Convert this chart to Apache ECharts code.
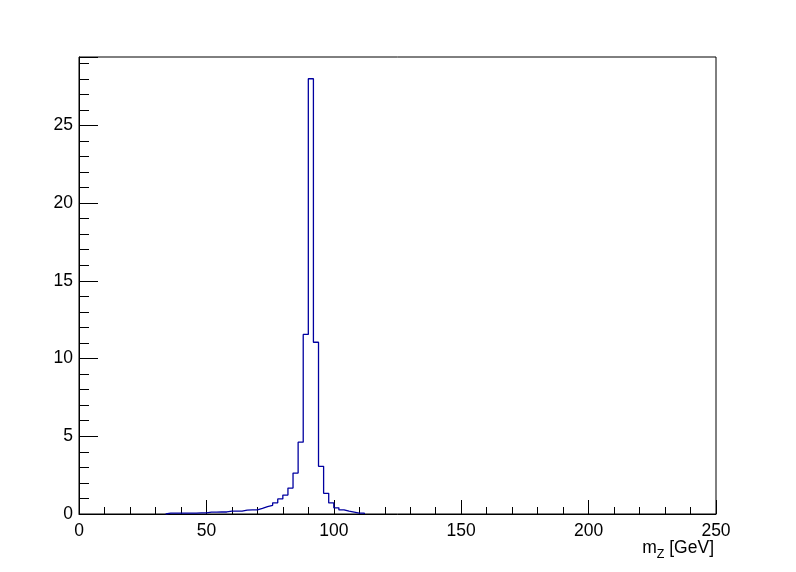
<!DOCTYPE html>
<html>
<head>
<meta charset="utf-8">
<script src="https://cdn.jsdelivr.net/npm/echarts@6/dist/echarts.min.js"></script>
<style>html,body{margin:0;padding:0;background:#fff;}#c{width:796px;height:572px;}</style>
</head>
<body>
<div id="c"></div>
<script>
// Histogram bins (low edges, GeV) and contents
const binLow = [34,36,38,40,42,44,46,48,50,52,54,56,58,60,62,64,66,68,70,72,74,76,78,80,82,84,86,88,90,92,94,96,98,100,102,104,106,108,110];
const binWidth = 2;
const counts = [0.05,0.05,0.06,0.06,0.06,0.06,0.07,0.07,0.12,0.12,0.13,0.13,0.18,0.19,0.19,0.25,0.26,0.26,0.36,0.47,0.56,0.72,0.97,1.22,1.67,2.63,4.62,11.55,28.0,11.05,3.07,1.33,0.71,0.40,0.26,0.18,0.12,0.06,0.05];
const xTicks = [0,50,100,150,200,250];
const yTicks = [0,5,10,15,20,25];
const xMin = 0, xMax = 250, yMin = 0, yMax = 29.4;

// step outline built from bins
const pts = [[binLow[0], 0]];
for (let i = 0; i < binLow.length; i++) pts.push([binLow[i], counts[i]]);
const lastEdge = binLow[binLow.length - 1] + binWidth;
pts.push([lastEdge, counts[counts.length - 1]]);
pts.push([lastEdge, 0]);

const font = 'Liberation Sans, Arial, Helvetica, sans-serif';
const chart = echarts.init(document.getElementById('c'), null, {renderer: 'canvas'});
chart.setOption({
  animation: false,
  backgroundColor: '#fff',
  grid: {left: 79, right: 80, top: 57, bottom: 58, show: true, borderColor: '#000', borderWidth: 1, backgroundColor: 'transparent'},
  xAxis: {
    type: 'value', min: xMin, max: xMax, interval: 50,
    axisLine: {show: true, lineStyle: {color: '#000', width: 1}},
    axisTick: {show: true, inside: true, length: 14, lineStyle: {color: '#000', width: 1}},
    minorTick: {show: true, splitNumber: 5, length: 7, lineStyle: {color: '#000', width: 1}},
    splitLine: {show: false},
    axisLabel: {color: '#000', fontFamily: font, fontSize: 17.5, margin: 8, showMaxLabel: true, showMinLabel: true,
      formatter: v => xTicks.indexOf(v) >= 0 ? String(v) : ''}
  },
  yAxis: [{
    type: 'value', min: yMin, max: yMax, interval: 5,
    axisLine: {show: true, lineStyle: {color: '#000', width: 1}},
    axisTick: {show: true, inside: true, length: 19, lineStyle: {color: '#000', width: 1}},
    splitLine: {show: false},
    axisLabel: {color: '#000', fontFamily: font, fontSize: 17.5, margin: 6,
      formatter: v => yTicks.indexOf(v) >= 0 ? String(v) : ''}
  }, {
    type: 'value', min: yMin, max: yMax, interval: 1, position: 'left',
    axisLine: {show: false},
    axisTick: {show: true, inside: true, length: 10, lineStyle: {color: '#000', width: 1}},
    splitLine: {show: false},
    axisLabel: {show: false}
  }],
  series: [{
    type: 'line', step: 'end', data: pts, yAxisIndex: 0,
    symbol: 'none', silent: true,
    lineStyle: {color: '#0000a0', width: 1.3}
  }],
  graphic: [{
    type: 'text', right: 82, top: 539,
    style: {
      text: '{m|m}{s|Z}{m| [GeV]}',
      rich: {
        m: {fontFamily: font, fontSize: 17.5, fill: '#000'},
        s: {fontFamily: font, fontSize: 12.5, fill: '#000', padding: [14, 0, 0, 0]}
      }
    }
  }]
});
</script>
</body>
</html>
